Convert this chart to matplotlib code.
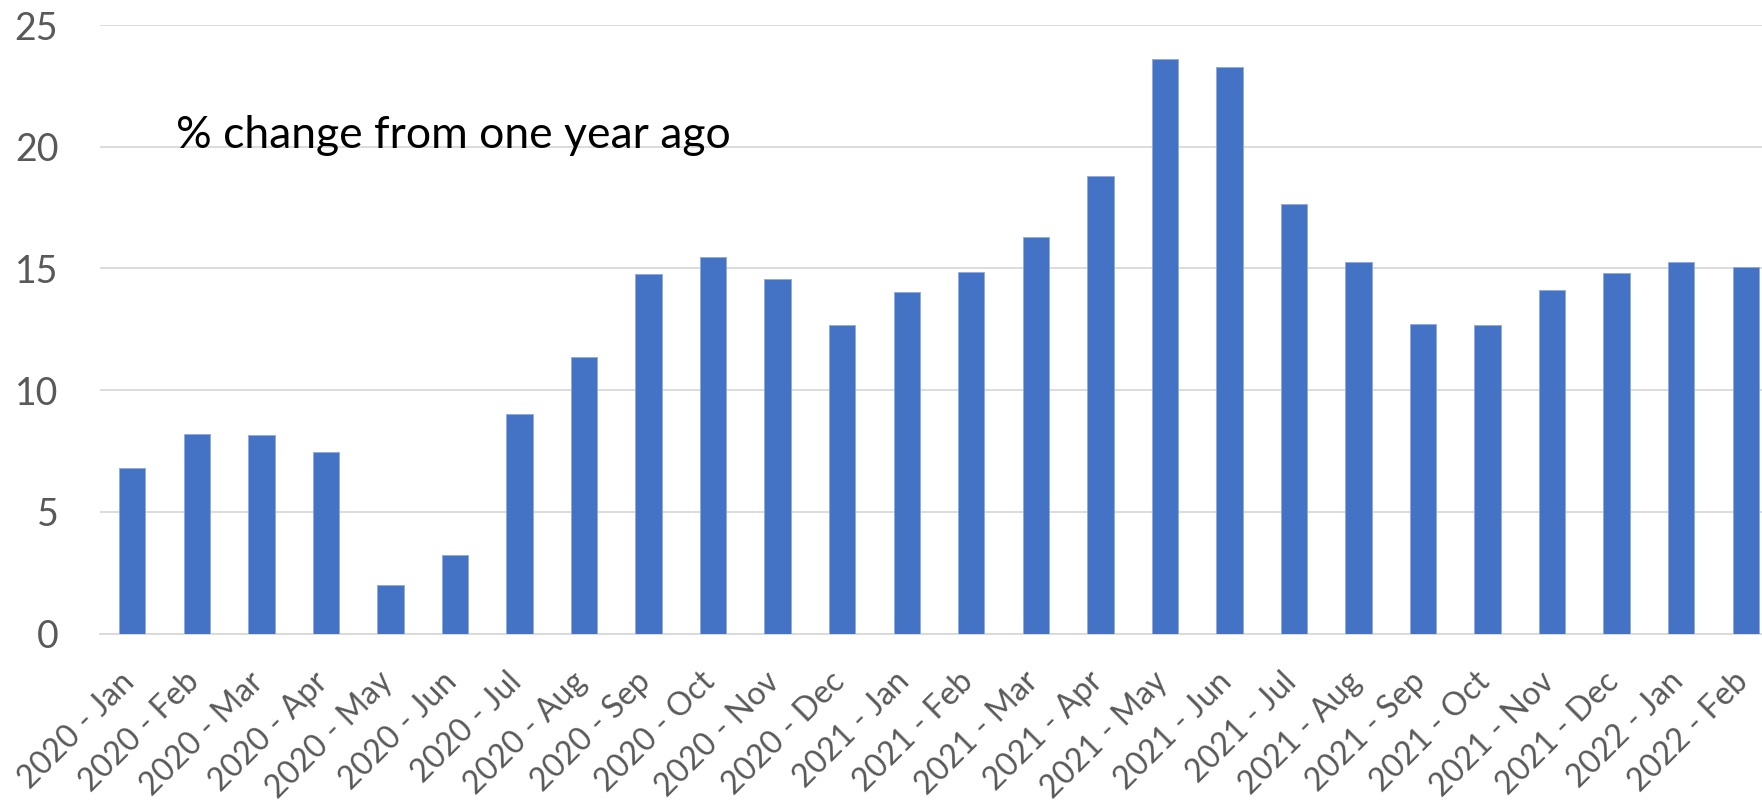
import matplotlib
matplotlib.use("Agg")
import matplotlib.pyplot as plt
from matplotlib.transforms import ScaledTranslation

plt.rcParams['font.family'] = ['Lato', 'DejaVu Sans']

months = ["2020 - Jan", "2020 - Feb", "2020 - Mar", "2020 - Apr", "2020 - May", "2020 - Jun",
          "2020 - Jul", "2020 - Aug", "2020 - Sep", "2020 - Oct", "2020 - Nov", "2020 - Dec",
          "2021 - Jan", "2021 - Feb", "2021 - Mar", "2021 - Apr", "2021 - May", "2021 - Jun",
          "2021 - Jul", "2021 - Aug", "2021 - Sep", "2021 - Oct", "2021 - Nov", "2021 - Dec",
          "2022 - Jan", "2022 - Feb"]
pct_change = [6.8, 8.2, 8.15, 7.45, 1.98, 3.22,
              9.02, 11.37, 14.78, 15.47, 14.55, 12.66,
              14.04, 14.87, 16.3, 18.78, 23.62, 23.28,
              17.66, 15.27, 12.71, 12.66, 14.12, 14.81,
              15.28, 15.06]
y_ticks = [0, 5, 10, 15, 20, 25]

W, H = 1762, 801
fig = plt.figure(figsize=(W / 100, H / 100), dpi=100)
left, right = 100 / W, 1778 / W
bottom, top = (H - 633.5) / H, (H - 25) / H
ax = fig.add_axes([left, bottom, right - left, top - bottom])

x = list(range(len(months)))
ax.bar(x, pct_change, width=0.41, color="#4472C4", edgecolor="#8EA9DB",
       linewidth=0.6, zorder=3)

ax.set_xlim(-0.5, len(months) - 0.5)
ax.set_ylim(0, 25)
ax.set_yticks(y_ticks)
ax.yaxis.grid(True, color="#D9D9D9", linewidth=1.3, zorder=0)
ax.set_axisbelow(True)
for s in ["left", "right", "top"]:
    ax.spines[s].set_visible(False)
ax.spines["bottom"].set_color("#D9D9D9")
ax.spines["bottom"].set_linewidth(1.3)

ax.tick_params(axis="y", length=0, pad=30, labelsize=27, labelcolor="#595959")
ax.tick_params(axis="x", length=0, pad=0, labelsize=23, labelcolor="#595959")
ax.set_xticks(x)
ax.set_xticklabels(months, rotation=45, ha="right", va="baseline", rotation_mode="anchor")
# anchor each rotated label's baseline end just right of and below its tick
offset = ScaledTranslation(4 / 100, -50 / 100, fig.dpi_scale_trans)
for lbl in ax.get_xticklabels():
    lbl.set_transform(lbl.get_transform() + offset)

fig.text(176 / W, (H - 148) / H, "% change from one year ago", fontsize=32,
         color="black", ha="left", va="baseline")

fig.savefig("out.png", dpi=100, facecolor="white")
